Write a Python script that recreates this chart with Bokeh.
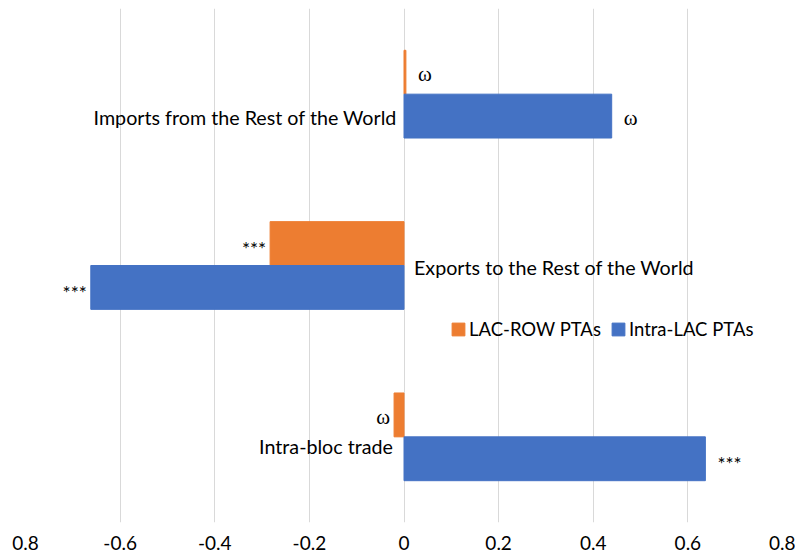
from bokeh.plotting import figure
from bokeh.models import Range1d, FactorRange, FixedTicker, Legend, LegendItem, ColumnDataSource
from bokeh.transform import dodge
from bokeh.core.properties import value
from bokeh.embed import file_html
from bokeh.resources import INLINE

# ---- data ----
categories = ["Intra-bloc trade", "Exports to the Rest of the World", "Imports from the Rest of the World"]
lac_row = [-0.021, -0.283, 0.004]
intra_lac = [0.637, -0.662, 0.439]
lac_row_sig = ["\u03c9", "***", "\u03c9"]
intra_lac_sig = ["***", "***", "\u03c9"]
series_names = ["LAC-ROW PTAs", "Intra-LAC PTAs"]
tick_values = [-0.8, -0.6, -0.4, -0.2, 0, 0.2, 0.4, 0.6, 0.8]
tick_labels = ["0.8", "-0.6", "-0.4", "-0.2", "0", "0.2", "0.4", "0.6", "0.8"]

ORANGE = "#ED7D31"
BLUE = "#4472C4"
FONT = "Lato"

p = figure(width=795, height=552, output_backend="svg", toolbar_location=None,
           x_range=Range1d(-0.8, 0.8),
           y_range=FactorRange(factors=categories, range_padding=0),
           y_axis_location=None,
           min_border_left=25, min_border_right=13, min_border_top=8, min_border_bottom=29)
p.outline_line_color = None
p.background_fill_color = "white"

p.xaxis.ticker = FixedTicker(ticks=tick_values)
p.xaxis.major_label_overrides = dict(zip(tick_values, tick_labels))
p.xaxis.axis_line_color = None
p.xaxis.major_tick_line_color = None
p.xaxis.minor_tick_line_color = None
p.xaxis.major_label_text_font = FONT
p.xaxis.major_label_text_font_size = "19px"
p.xaxis.major_label_text_color = "#000000"
p.xaxis.major_label_standoff = 7
p.xgrid.ticker = FixedTicker(ticks=tick_values)
p.xgrid.grid_line_color = "#d9d9d9"
p.ygrid.grid_line_color = None

src = ColumnDataSource(dict(cat=categories, lac_row=lac_row, intra=intra_lac))
r_or = p.hbar(y=dodge("cat", 0.128, range=p.y_range), left=0, right="lac_row", height=0.256,
              fill_color=ORANGE, line_color=ORANGE, source=src)
r_bl = p.hbar(y=dodge("cat", -0.128, range=p.y_range), left=0, right="intra", height=0.256,
              fill_color=BLUE, line_color=BLUE, source=src)

# significance labels at bar ends
def sig_source(vals, sigs):
    return ColumnDataSource(dict(
        cat=categories, x=vals, txt=sigs,
        align=["left" if v >= 0 else "right" for v in vals],
        xoff=[12 if v >= 0 else -4 for v in vals],
        yoff=[2 if s == "\u03c9" else 5 for s in sigs],
        font=["Liberation Serif" if s == "\u03c9" else FONT for s in sigs],
        size=["21px" if s == "\u03c9" else "19px" for s in sigs],
    ))

for vals, sigs, off in ((lac_row, lac_row_sig, 0.128), (intra_lac, intra_lac_sig, -0.128)):
    s = sig_source(vals, sigs)
    p.text(x="x", y=dodge("cat", off, range=p.y_range), text="txt", source=s,
           text_align="align", text_baseline="middle", x_offset="xoff", y_offset="yoff",
           text_font="font", text_font_size="size", text_color="#000000")

# category labels next to the zero axis
cat_src = ColumnDataSource(dict(
    cat=categories, x=[0, 0, 0], txt=categories,
    align=["right", "left", "right"],
    xoff=[-11, 10, -7],
    yoff=[10, 2, 23],
))
p.text(x="x", y="cat", text="txt", source=cat_src, text_align="align", text_baseline="middle",
       x_offset="xoff", y_offset="yoff", text_font=value(FONT), text_font_size="19.7px",
       text_color="#000000")

legend = Legend(items=[LegendItem(label=series_names[0], renderers=[r_or]),
                       LegendItem(label=series_names[1], renderers=[r_bl])],
                orientation="horizontal", location=(425, 182),
                border_line_color=None, background_fill_alpha=0,
                padding=0, margin=0, spacing=9, glyph_width=16, glyph_height=16,
                label_standoff=3, label_text_font=FONT, label_text_font_size="18.5px",
                label_text_color="#000000")
p.add_layout(legend, "center")

open("out.html", "w").write(file_html(p, INLINE))
